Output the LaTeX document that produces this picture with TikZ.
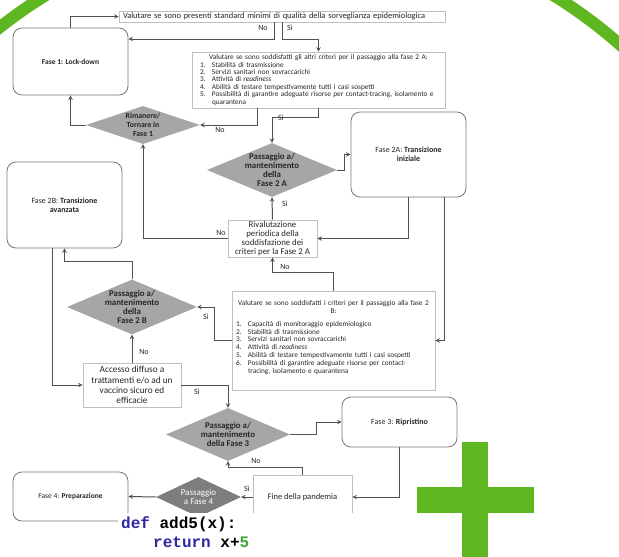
\documentclass[tikz,border=0pt]{standalone}
\usepackage{fontspec}
\setmainfont{Carlito}
\setmonofont{Liberation Mono}
\usetikzlibrary{shapes.geometric}

\definecolor{ringgreen}{RGB}{94,183,32}
\definecolor{linegray}{RGB}{80,80,80}
\definecolor{boxgray}{RGB}{191,191,191}
\definecolor{roundgray}{RGB}{120,120,120}
\definecolor{decgray}{RGB}{166,166,166}
\definecolor{darkdec}{RGB}{125,125,125}
\definecolor{txtgray}{RGB}{38,38,38}
\definecolor{kwblue}{RGB}{45,40,160}
\definecolor{numgreen}{RGB}{60,165,50}

\newcommand{\critno}[1]{\makebox[12pt][l]{#1}}

\begin{document}
\begin{tikzpicture}[x=1pt, y=-1pt,
    phase/.style={rectangle, rounded corners=9pt, draw=roundgray, line width=0.8pt, fill=white,
                  inner sep=0pt, text=txtgray, align=center, font=\fontsize{7.5}{9}\selectfont},
    check/.style={rectangle, draw=boxgray, line width=0.7pt, fill=white, inner sep=0pt,
                  text=txtgray, align=center, font=\fontsize{8.5}{10}\selectfont},
    crit/.style={rectangle, draw=boxgray, line width=0.7pt, fill=white, inner ysep=0pt,
                 text=txtgray, font=\fontsize{7.3}{7.4}\selectfont},
    dec/.style={diamond, fill=decgray, inner sep=0pt},
    dectext/.style={text=txtgray, font=\fontsize{8.8}{9.2}\selectfont\bfseries, align=center},
    arrow/.style={->, >=stealth, line width=1pt, linegray},
    lbl/.style={text=txtgray, font=\fontsize{8}{9}\selectfont, inner sep=0pt}
]
\useasboundingbox (0,0) rectangle (619,557);
\fill[white] (0,0) rectangle (619,557);

% Green ring and cross
\begin{scope}
\clip (0,0) rectangle (619,557);
\draw[ringgreen, line width=12pt] (299.5,408) circle[radius=484.5pt];
\end{scope}
\fill[ringgreen] (462,442) rectangle (488,557);
\fill[ringgreen] (417,487) rectangle (534,513);

% Surveillance check
\node[check, text width=318pt, inner xsep=4pt, align=left, minimum height=11pt,
      font=\fontsize{8.4}{9}\selectfont] (top) at (282,16.5)
    {Valutare se sono presenti standard minimi di qualità della sorveglianza epidemiologica};

% Phase 1
\node[phase, minimum width=115pt, minimum height=67pt] (fase1) at (70.5,61.5) {\textbf{Fase 1: Lock-down}};

% Criteria for phase 2 A
\node[crit, text width=237pt, inner xsep=8pt, minimum height=56pt] (crit2a) at (318.5,80) {%
    \centering Valutare se sono soddisfatti gli altri criteri per il passaggio alla fase 2 A:\par
    \raggedright
    \critno{1.}Stabilità di trasmissione\\
    \critno{2.}Servizi sanitari non sovraccarichi\\
    \critno{3.}Attività di \emph{readiness}\\
    \critno{4.}Abilità di testare tempestivamente tutti i casi sospetti\\
    \mbox{\critno{5.}Possibilità di garantire adeguate risorse per contact-tracing, isolamento e}\\
    \critno{}quarantena};

% Remain in phase 1
\node[dec, minimum width=114pt, minimum height=38pt,
      label={[dectext, font=\fontsize{7.8}{9}\selectfont\bfseries]center:Rimanere/\\Tornare in\\Fase 1}] (rim) at (143,125) {};

% Phase 2 A
\node[dec, minimum width=130pt, minimum height=54pt,
      label={[dectext]center:Passaggio a/\\mantenimento\\della\\Fase 2 A}] (d2a) at (272,170) {};
\node[phase, minimum width=115pt, minimum height=85pt, font=\fontsize{8}{9}\selectfont] (fase2a) at (408.5,154.5)
    {Fase 2A: \textbf{Transizione}\\\textbf{iniziale}};
\node[check, minimum width=89pt, minimum height=37pt, font=\fontsize{8.8}{9.2}\selectfont] (rival) at (272.5,238.5)
    {Rivalutazione\\periodica della\\soddisfazione dei\\criteri per la Fase 2 A};

% Phase 2 B
\node[phase, minimum width=115pt, minimum height=86pt, font=\fontsize{8}{9}\selectfont] (fase2b) at (64.5,205)
    {Fase 2B: \textbf{Transizione}\\\textbf{avanzata}};
\node[crit, text width=195pt, inner xsep=4pt, minimum height=99pt,
      font=\fontsize{7.3}{7.8}\selectfont] (crit2b) at (333.5,340.5) {%
    \centering Valutare se sono soddisfatti i criteri per il passaggio alla fase 2 B:\par
    \vspace{5pt}\raggedright
    \critno{1.}Capacità di monitoraggio epidemiologico\\
    \critno{2.}Stabilità di trasmissione\\
    \critno{3.}Servizi sanitari non sovraccarichi\\
    \critno{4.}Attività di \emph{readiness}\\
    \critno{5.}Abilità di testare tempestivamente tutti i casi sospetti\\
    \critno{6.}Possibilità di garantire adeguate risorse per contact-\\
    \critno{}tracing, isolamento e quarantena\par
    \vspace{6pt}};
\node[dec, minimum width=130pt, minimum height=55pt,
      label={[dectext]center:Passaggio a/\\mantenimento\\della\\Fase 2 B}] (d2b) at (132,307) {};
\node[check, minimum width=98pt, minimum height=44pt, font=\fontsize{9.3}{10.3}\selectfont] (accesso) at (132,385)
    {Accesso diffuso a\\trattamenti e/o ad un\\vaccino sicuro ed\\efficacie};

% Phase 3
\node[dec, minimum width=124pt, minimum height=53pt,
      label={[dectext, font=\fontsize{8.8}{8.6}\selectfont\bfseries]center:Passaggio a/\\mantenimento\\della Fase 3}] (d3) at (228,434.5) {};
\node[phase, minimum width=115pt, minimum height=50pt, font=\fontsize{8}{9}\selectfont] (fase3) at (399.5,422)
    {Fase 3: \textbf{Ripristino}};

% Phase 4
\node[check, minimum width=99pt, minimum height=44pt] (fine) at (302.5,497) {Fine della pandemia};
\node[dec, fill=darkdec, minimum width=85pt, minimum height=40pt,
      label={[dectext, text=white, font=\fontsize{9}{9}\selectfont]center:Passaggio\\a Fase 4}] (d4) at (198.5,497) {};
\node[phase, minimum width=115pt, minimum height=49pt] (fase4) at (70.5,496.5) {Fase 4: \textbf{Preparazione}};

% Flow arrows
\draw[arrow] (fase1.north) |- (top.west);
\draw[arrow] ([xshift=-8pt]top.south) |- ([yshift=22.5pt]fase1.east);
\draw[arrow] (top.south) -- ++(0,17) -| (crit2a.north);
\draw[arrow] ([xshift=-61.5pt]crit2a.south) |- (rim.east);
\draw[arrow] (crit2a.south) -- ++(0,9) -| (d2a.north);
\draw[arrow] (rim.west) -| (fase1.south);
\draw[arrow] (d2a.east) -- ++(7,0) |- (fase2a.west);
\draw[arrow] (fase2a.south) |- (rival.east);
\draw[arrow] ([xshift=35.5pt]fase2a.south) |- (crit2b.east);
\draw[arrow] (rival.north) -- (d2a.south);
\draw[arrow] (rival.west) -| (rim.south);
\draw[arrow] (crit2b.north) -- ++(0,-18) -| (rival.south);
\draw[arrow] (crit2b.west) -- ++(-17,0) |- (d2b.east);
\draw[arrow] (d2b.north) -- ++(0,-18) -| (fase2b.south);
\draw[arrow] ([xshift=-12.5pt]fase2b.south) |- (accesso.west);
\draw[arrow] (accesso.north) -- (d2b.south);
\draw[arrow] (accesso.east) -| (d3.north);
\draw[arrow] (d3.east) -- ++(26,0) |- (fase3.west);
\draw[arrow] (fase3.south) |- (fine.east);
\draw[arrow] (fine.north) -- ++(0,-7) -| (d3.south);
\draw[arrow] (fine.west) -- (d4.east);
\draw[arrow] (d4.west) -- (fase4.east);

% Labels on arrows
\node[lbl] (no1) at (263,28) {No};
\node[lbl] (si1) at (290,28) {Sì};
\node[lbl] (no2) at (220,130) {No};
\node[lbl] (si2) at (281,118) {Sì};
\node[lbl] (si3) at (285,204) {Sì};
\node[lbl] (no3) at (221,233) {No};
\node[lbl] (no4) at (285,267) {No};
\node[lbl] (si4) at (206,317) {Sì};
\node[lbl] (no5) at (144,352) {No};
\node[lbl] (si5) at (197,392) {Sì};
\node[lbl] (no6) at (256,461) {No};
\node[lbl] (si6) at (247,489) {Sì};

% Code snippet
\fill[white] (118,513) rectangle (360,557);
\node[anchor=base west, inner sep=0pt, font=\fontsize{16}{18}\selectfont\ttfamily\bfseries] (codedef) at (121,528)
    {\textcolor{kwblue}{def} add5(x):};
\node[anchor=base west, inner sep=0pt, font=\fontsize{16}{18}\selectfont\ttfamily\bfseries] (coderet) at (153,547)
    {\textcolor{kwblue}{return} x+\textcolor{numgreen}{5}};

\end{tikzpicture}
\end{document}
